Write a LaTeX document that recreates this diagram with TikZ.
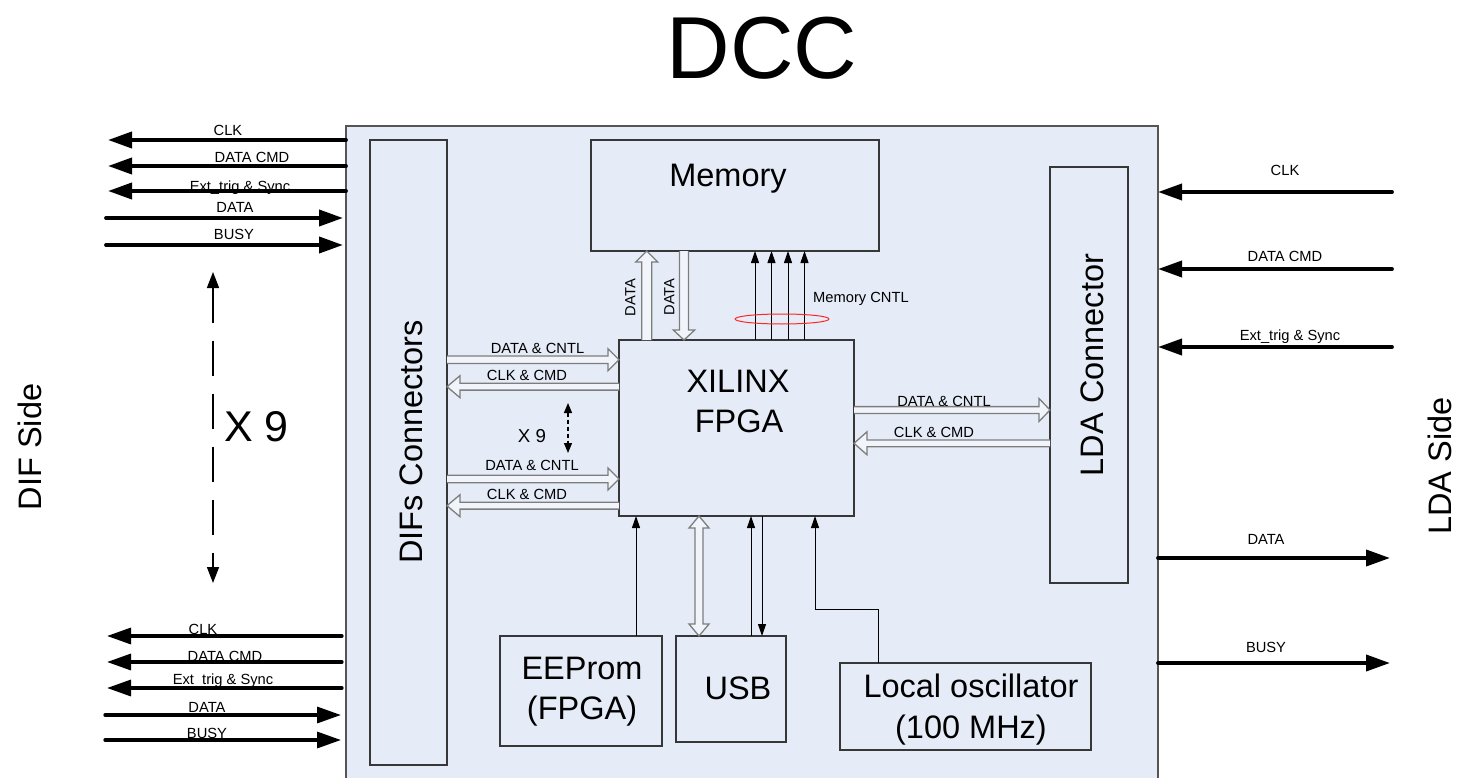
\documentclass[tikz,border=0pt]{standalone}
\usepackage{fontspec}
\setmainfont{Liberation Sans}
\usetikzlibrary{arrows.meta,calc,shapes.geometric}
\definecolor{bgblue}{RGB}{229,236,247}
\definecolor{hollowgray}{RGB}{125,125,125}
\definecolor{boxline}{RGB}{55,55,55}
\definecolor{mainline}{RGB}{85,85,85}
\newcommand\fsz[1]{\fontsize{#1}{#1}\selectfont}
% hollow block arrow: #1 from, #2 to (tip), #3 shaft half width, #4 head half width, #5 head length
\newcommand\blockarrow[5]{%
  \path (#1) coordinate (ba-s) (#2) coordinate (ba-t) ($(ba-t)!#5!(ba-s)$) coordinate (ba-h);
  \draw[hollowa] ($(ba-s)!#3!90:(ba-t)$) -- ($(ba-h)!#3!90:(ba-t)$) -- ($(ba-h)!#4!90:(ba-t)$)
    -- (ba-t) -- ($(ba-h)!#4!-90:(ba-t)$) -- ($(ba-h)!#3!-90:(ba-t)$) -- ($(ba-s)!#3!-90:(ba-t)$);
}
\newcommand\dblockarrow[5]{%
  \path (#1) coordinate (ba-s) (#2) coordinate (ba-t) ($(ba-t)!#5!(ba-s)$) coordinate (ba-h)
        ($(ba-s)!#5!(ba-t)$) coordinate (ba-g);
  \draw[hollowa] (ba-s) -- ($(ba-g)!#4!90:(ba-t)$) -- ($(ba-g)!#3!90:(ba-t)$) -- ($(ba-h)!#3!90:(ba-t)$)
    -- ($(ba-h)!#4!90:(ba-t)$) -- (ba-t) -- ($(ba-h)!#4!-90:(ba-t)$) -- ($(ba-h)!#3!-90:(ba-t)$)
    -- ($(ba-g)!#3!-90:(ba-t)$) -- ($(ba-g)!#4!-90:(ba-t)$) -- cycle;
}
\tikzset{
  blk/.style={draw=boxline, line width=1.2pt, fill=bgblue, anchor=north west, inner sep=0pt, outer sep=0pt},
  bigt/.style={inner sep=0pt, font=\fsz{32.5}, text height=23.3pt, text depth=0pt},
  smt/.style={inner sep=0pt, font=\fsz{14.7}, text height=10.5pt, text depth=0pt},
  sig/.style={line width=3.8pt, line cap=round, -{Triangle[length=24pt,width=16pt]}},
  tarrow/.style={line width=1pt, -{Triangle[length=12pt,width=8pt]}},
  hollowa/.style={draw=hollowgray, line width=1.3pt, fill=white!45!bgblue, line join=miter},
  bigdash/.style={line width=1.6pt, dash pattern=on 35pt off 18pt,
    {Triangle[length=16pt,width=12pt]}-{Triangle[length=16pt,width=12pt]}},
  smdash/.style={line width=1.3pt, dash pattern=on 4pt off 3pt,
    {Triangle[length=10pt,width=8pt]}-{Triangle[length=10pt,width=8pt]}},
}
\begin{document}
\begin{tikzpicture}[x=1pt,y=-1pt]
\useasboundingbox (0,0) rectangle (1458,778);
\fill[white] (0,0) rectangle (1458,778);
\clip (0,0) rectangle (1458,778);

% title
\node[inner sep=0pt, font=\fsz{88}, text height=63pt, text depth=0pt] (title) at (762,47.5) {DCC};

% main board
\node[blk, draw=mainline, line width=1.8pt, minimum width=812pt, minimum height=700pt] (main) at (346,126) {};

% inner blocks
\node[blk, minimum width=77pt, minimum height=625pt] (dif) at (370,140) {};
\node[blk, minimum width=78pt, minimum height=416pt] (lda) at (1050,167) {};
\node[blk, minimum width=288pt, minimum height=111pt] (mem) at (591,140) {};
\node[blk, minimum width=235pt, minimum height=176pt] (fpga) at (619,340) {};
\node[blk, minimum width=162pt, minimum height=110pt] (eeprom) at (500,636) {};
\node[blk, minimum width=110pt, minimum height=106pt] (usb) at (676,636) {};
\node[blk, minimum width=251pt, minimum height=87pt] (osc) at (840,663) {};

% block texts
\node[bigt, rotate=90] (diftxt) at (411,442) {DIFs Connectors};
\node[bigt, rotate=90] (ldatxt) at (1092,365) {LDA Connector};
\node[bigt] (memtxt) at (728,175) {Memory};
\node[bigt] (xiltxt) at (738,381) {XILINX};
\node[bigt] (fpgatxt) at (739,421) {FPGA};
\node[bigt] (eetxt1) at (582,668) {EEProm};
\node[bigt] (eetxt2) at (582,708) {(FPGA)};
\node[bigt] (usbtxt) at (738,688) {USB};
\node[bigt] (osctxt1) at (971,686) {Local oscillator};
\node[bigt] (osctxt2) at (971,727) {(100 MHz)};

% side texts
\node[bigt, rotate=90] (difside) at (30,447) {DIF Side};
\node[bigt, rotate=90] (ldaside) at (1440,466) {LDA Side};

% left top signals
\coordinate (tl1) at (108,140);
\coordinate (tl2) at (108,166);
\coordinate (tl3) at (108,191);
\coordinate (tl4) at (106,218);
\coordinate (tl5) at (106,245);
\draw[sig] (tl1 -| main.west) -- (tl1);
\draw[sig] (tl2 -| main.west) -- (tl2);
\draw[sig] (tl3 -| main.west) -- (tl3);
\draw[sig, shorten >=3pt] (tl4) -- (tl4 -| main.west);
\draw[sig, shorten >=3pt] (tl5) -- (tl5 -| main.west);
\node[smt] (ltl1) at (228,130) {CLK};
\node[smt] (ltl2) at (252,157) {DATA CMD};
\node[smt] (ltl3) at (240,186) {Ext\_trig \& Sync};
\node[smt] (ltl4) at (235,207.5) {DATA};
\node[smt] (ltl5) at (234,234) {BUSY};

% left bottom signals
\coordinate (bl1) at (107,636);
\coordinate (bl2) at (107,662);
\coordinate (bl3) at (107,688);
\coordinate (bl4) at (105,715);
\coordinate (bl5) at (105,740);
\draw[sig, line width=3.3pt, shorten <=4pt] (bl1 -| main.west) -- (bl1);
\draw[sig, line width=3.3pt, shorten <=4pt] (bl2 -| main.west) -- (bl2);
\draw[sig, line width=3.3pt, shorten <=4pt] (bl3 -| main.west) -- (bl3);
\draw[sig, line width=3.3pt, shorten >=5pt] (bl4) -- (bl4 -| main.west);
\draw[sig, line width=3.3pt, shorten >=5pt] (bl5) -- (bl5 -| main.west);
\node[smt] (lbl1) at (203,629) {CLK};
\node[smt] (lbl2) at (225,656) {DATA CMD};
\node[smt] (lbl3) at (223,679) {Ext\_trig \& Sync};
\node[smt] (lbl4) at (207,707) {DATA};
\node[smt] (lbl5) at (207,733) {BUSY};

% X 9 (left)
\coordinate (x9t) at (213,272);
\coordinate (x9b) at (213,583);
\draw[bigdash] (x9t) -- (x9b);
\node[inner sep=0pt, font=\fsz{43}, text height=30.8pt, text depth=0pt] (x9txt) at (256.5,426) {X 9};

% right signals
\coordinate (tr1) at (1392,192);
\coordinate (tr2) at (1392,269);
\coordinate (tr3) at (1392,347);
\coordinate (tr4) at (1390,558);
\coordinate (tr5) at (1390,663);
\draw[sig] (tr1) -- (tr1 -| main.east);
\draw[sig] (tr2) -- (tr2 -| main.east);
\draw[sig] (tr3) -- (tr3 -| main.east);
\draw[sig] (main.east |- tr4) -- (tr4);
\draw[sig] (main.east |- tr5) -- (tr5);
\node[smt] (ltr1) at (1285,170) {CLK};
\node[smt] (ltr2) at (1285,256) {DATA CMD};
\node[smt] (ltr3) at (1290,335) {Ext\_trig \& Sync};
\node[smt] (ltr4) at (1266,539.5) {DATA};
\node[smt] (ltr5) at (1266,647) {BUSY};

% DIF connectors <-> FPGA
\coordinate (ha1) at (0,359.7);
\coordinate (ha2) at (0,386.7);
\coordinate (ha3) at (0,479);
\coordinate (ha4) at (0,505.7);
\blockarrow{dif.east |- ha1}{fpga.west |- ha1}{3.7pt}{11pt}{11pt}
\blockarrow{fpga.west |- ha2}{dif.east |- ha2}{3.4pt}{11pt}{13pt}
\blockarrow{dif.east |- ha3}{fpga.west |- ha3}{3.8pt}{11pt}{11pt}
\blockarrow{fpga.west |- ha4}{dif.east |- ha4}{3.4pt}{11pt}{13pt}
\node[smt] (lh1) at (537.5,348) {DATA \& CNTL};
\node[smt] (lh2) at (527,375) {CLK \& CMD};
\node[smt] (lh3) at (532,465.5) {DATA \& CNTL};
\node[smt] (lh4) at (527,494) {CLK \& CMD};
\coordinate (sx9t) at (568,403);
\coordinate (sx9b) at (568,453);
\draw[smdash] (sx9t) -- (sx9b);
\node[inner sep=0pt, font=\fsz{18.7}, text height=13.4pt, text depth=0pt] (sx9txt) at (532,436) {X 9};

% FPGA <-> LDA connector
\coordinate (hr1) at (0,410);
\coordinate (hr2) at (0,443.3);
\blockarrow{fpga.east |- hr1}{lda.west |- hr1}{3.4pt}{11.5pt}{11pt}
\blockarrow{lda.west |- hr2}{fpga.east |- hr2}{3.4pt}{11.5pt}{13pt}
\node[smt] (lr1) at (944,401) {DATA \& CNTL};
\node[smt] (lr2) at (934,432) {CLK \& CMD};

% Memory <-> FPGA
\coordinate (xd1) at (646.7,0);
\coordinate (xd2) at (684,0);
\blockarrow{xd1 |- fpga.north}{xd1 |- mem.south}{5pt}{11pt}{11pt}
\blockarrow{xd2 |- mem.south}{xd2 |- fpga.north}{4.5pt}{10.7pt}{10pt}
\node[smt, rotate=90] (ld1) at (630,297.5) {DATA};
\node[smt, rotate=90] (ld2) at (669,297) {DATA};
\foreach \xx [count=\i] in {755,771.5,788,804.5} {
  \coordinate (mc\i) at (\xx,0);
  \draw[tarrow] (mc\i |- fpga.north) -- (mc\i |- mem.south);
}
\node[smt, anchor=west] (lmc) at (813,297) {Memory CNTL};
\node[draw=red!85, line width=1pt, ellipse, minimum width=94pt, minimum height=10pt, inner sep=0pt] (ring) at (782,319) {};

% bottom connections
\coordinate (xe) at (636,0);
\draw[tarrow] (xe |- eeprom.north) -- (xe |- fpga.south);
\coordinate (xh) at (699,0);
\dblockarrow{xh |- fpga.south}{xh |- usb.north}{4pt}{10pt}{12pt}
\coordinate (xu1) at (751,0);
\coordinate (xu2) at (762,0);
\draw[tarrow] (xu1 |- usb.north) -- (xu1 |- fpga.south);
\draw[tarrow] (xu2 |- fpga.south) -- (xu2 |- usb.north);
\coordinate (xo1) at (878,0);
\coordinate (oc) at (815,609);
\draw[tarrow] (xo1 |- osc.north) -- (xo1 |- oc) -- (oc) -- (oc |- fpga.south);
\end{tikzpicture}
\end{document}
